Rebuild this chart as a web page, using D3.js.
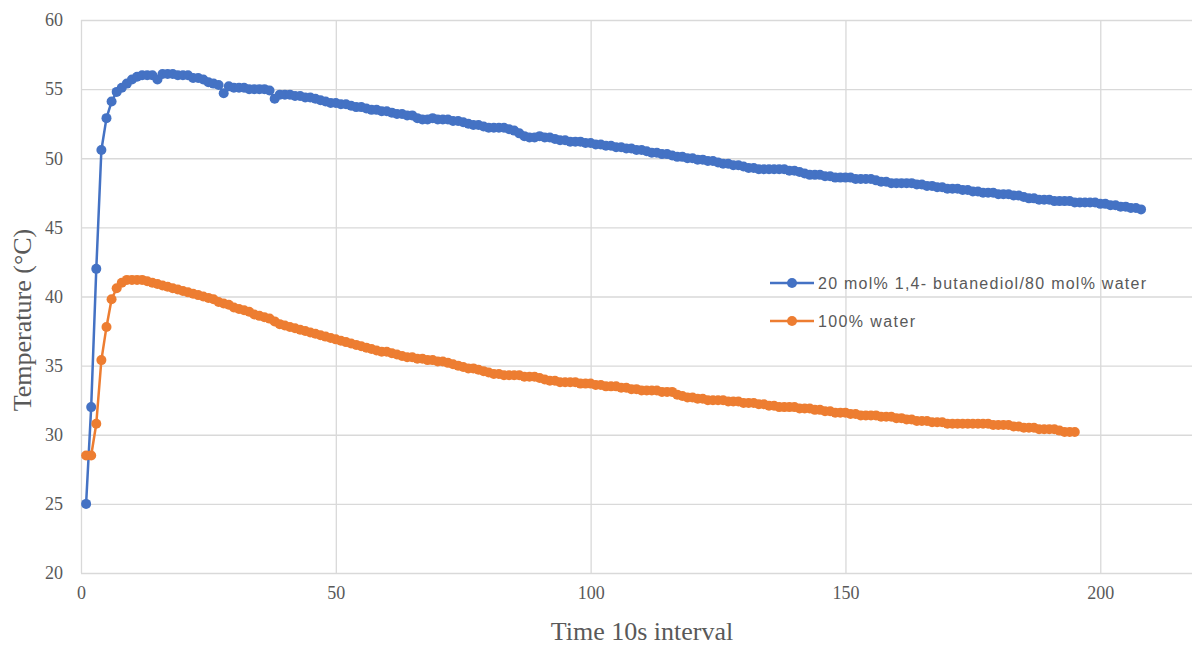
<!DOCTYPE html>
<html>
<head>
<meta charset="utf-8">
<script src="https://cdn.jsdelivr.net/npm/d3@7"></script>
<style>
  html, body { margin: 0; padding: 0; background: #ffffff; }
  svg { display: block; }
</style>
</head>
<body>
<svg id="chart" width="1196" height="648"></svg>
<script>
// Temperature readings, one per 10 s interval (interval index starts at 1)
const seriesNames = ["20 mol% 1,4- butanediol/80 mol% water", "100% water"];
const seriesColors = ["#4472C4", "#ED7D31"];

const butanediolTemps = [
  25.0, 32.0, 42.0, 50.6, 52.9, 54.1, 54.8, 55.1, 55.4, 55.7,
  55.9, 56.0, 56.0, 56.0, 55.7, 56.1, 56.1, 56.1, 56.0, 56.0,
  56.0, 55.8, 55.8, 55.7, 55.5, 55.4, 55.3, 54.7, 55.2, 55.1,
  55.1, 55.1, 55.0, 55.0, 55.0, 55.0, 54.9, 54.3, 54.6, 54.6,
  54.6, 54.5, 54.5, 54.4, 54.4, 54.3, 54.2, 54.1, 54.0, 54.0,
  53.9, 53.9, 53.8, 53.7, 53.7, 53.6, 53.5, 53.5, 53.4, 53.4,
  53.3, 53.2, 53.2, 53.1, 53.1, 52.9, 52.8, 52.8, 52.9, 52.8,
  52.8, 52.8, 52.7, 52.7, 52.6, 52.5, 52.4, 52.4, 52.3, 52.2,
  52.2, 52.2, 52.2, 52.1, 52.0, 51.8, 51.6, 51.5, 51.5, 51.6,
  51.5, 51.5, 51.4, 51.3, 51.3, 51.2, 51.2, 51.2, 51.1, 51.1,
  51.0, 51.0, 50.9, 50.9, 50.8, 50.8, 50.7, 50.7, 50.6, 50.6,
  50.5, 50.4, 50.4, 50.3, 50.3, 50.2, 50.1, 50.1, 50.0, 50.0,
  49.9, 49.9, 49.8, 49.8, 49.7, 49.6, 49.6, 49.5, 49.5, 49.4,
  49.3, 49.3, 49.2, 49.2, 49.2, 49.2, 49.2, 49.2, 49.1, 49.1,
  49.0, 48.9, 48.8, 48.8, 48.8, 48.7, 48.7, 48.6, 48.6, 48.6,
  48.6, 48.5, 48.5, 48.5, 48.5, 48.4, 48.3, 48.3, 48.2, 48.2,
  48.2, 48.2, 48.2, 48.1, 48.1, 48.0, 48.0, 47.9, 47.9, 47.8,
  47.8, 47.8, 47.7, 47.7, 47.6, 47.6, 47.5, 47.5, 47.5, 47.4,
  47.4, 47.4, 47.3, 47.3, 47.2, 47.1, 47.1, 47.0, 47.0, 47.0,
  46.9, 46.9, 46.9, 46.9, 46.8, 46.8, 46.8, 46.8, 46.8, 46.7,
  46.7, 46.6, 46.6, 46.5, 46.5, 46.4, 46.4, 46.3
];

const waterTemps = [
  28.5, 28.5, 30.8, 35.4, 37.8, 39.8, 40.6, 41.0, 41.2, 41.2,
  41.2, 41.2, 41.1, 41.0, 40.9, 40.8, 40.7, 40.6, 40.5, 40.4,
  40.3, 40.2, 40.1, 40.0, 39.9, 39.8, 39.6, 39.5, 39.4, 39.2,
  39.1, 39.0, 38.9, 38.7, 38.6, 38.5, 38.4, 38.2, 38.0, 37.9,
  37.8, 37.7, 37.6, 37.5, 37.4, 37.3, 37.2, 37.1, 37.0, 36.9,
  36.8, 36.7, 36.6, 36.5, 36.4, 36.3, 36.2, 36.1, 36.0, 36.0,
  35.9, 35.8, 35.7, 35.6, 35.6, 35.5, 35.5, 35.4, 35.4, 35.3,
  35.3, 35.2, 35.1, 35.0, 34.9, 34.8, 34.8, 34.7, 34.6, 34.5,
  34.4, 34.4, 34.3, 34.3, 34.3, 34.3, 34.2, 34.2, 34.2, 34.1,
  34.0, 33.9, 33.9, 33.8, 33.8, 33.8, 33.8, 33.7, 33.7, 33.7,
  33.6, 33.6, 33.5, 33.5, 33.5, 33.4, 33.4, 33.3, 33.3, 33.2,
  33.2, 33.2, 33.2, 33.1, 33.1, 33.1, 32.9, 32.8, 32.7, 32.7,
  32.6, 32.6, 32.5, 32.5, 32.5, 32.5, 32.4, 32.4, 32.4, 32.3,
  32.3, 32.3, 32.2, 32.2, 32.1, 32.1, 32.0, 32.0, 32.0, 32.0,
  31.9, 31.9, 31.9, 31.8, 31.8, 31.7, 31.7, 31.6, 31.6, 31.6,
  31.5, 31.5, 31.4, 31.4, 31.4, 31.4, 31.3, 31.3, 31.3, 31.2,
  31.2, 31.1, 31.1, 31.0, 31.0, 31.0, 30.9, 30.9, 30.9, 30.8,
  30.8, 30.8, 30.8, 30.8, 30.8, 30.8, 30.8, 30.8, 30.7, 30.7,
  30.7, 30.7, 30.6, 30.6, 30.5, 30.5, 30.5, 30.4, 30.4, 30.4,
  30.4, 30.3, 30.2, 30.2, 30.2
];

const xTicks = [0, 50, 100, 150, 200];
const yTicks = [20, 25, 30, 35, 40, 45, 50, 55, 60];
const xTitle = "Time 10s interval";
const yTitle = "Temperature (°C)";

const svg = d3.select("#chart");
const plot = { left: 81, right: 1192, top: 20, bottom: 573 };

const x = d3.scaleLinear().domain([0, 218]).range([plot.left, plot.right]);
const y = d3.scaleLinear().domain([20, 60]).range([plot.bottom, plot.top]);

const gridColor = "#d9d9d9";
const textColor = "#595959";
const serif = "'Liberation Serif', 'Times New Roman', serif";
const sans = "'Liberation Sans', Arial, sans-serif";

// horizontal gridlines + y tick labels
const yAxis = d3.axisLeft(y).tickValues(yTicks).tickSize(-(plot.right - plot.left)).tickPadding(18).tickFormat(d3.format("d"));
const gy = svg.append("g").attr("transform", `translate(${plot.left},0)`).call(yAxis);
gy.select(".domain").remove();
gy.selectAll(".tick line").attr("stroke", gridColor).attr("stroke-width", 1.3);
gy.selectAll(".tick text").attr("fill", textColor).style("font-family", serif).style("font-size", "18px");

// vertical gridlines + x tick labels
const xAxis = d3.axisBottom(x).tickValues(xTicks).tickSize(-(plot.bottom - plot.top)).tickPadding(13).tickFormat(d3.format("d"));
const gx = svg.append("g").attr("transform", `translate(0,${plot.bottom})`).call(xAxis);
gx.select(".domain").remove();
gx.selectAll(".tick line").attr("stroke", gridColor).attr("stroke-width", 1.3);
gx.selectAll(".tick text").attr("fill", textColor).style("font-family", serif).style("font-size", "18px");

// axis titles
svg.append("text")
  .attr("x", 642).attr("y", 640)
  .attr("text-anchor", "middle").attr("fill", textColor)
  .style("font-family", serif).style("font-size", "26px")
  .text(xTitle);

svg.append("text")
  .attr("transform", "translate(31,320) rotate(-90)")
  .attr("text-anchor", "middle").attr("fill", textColor)
  .style("font-family", serif).style("font-size", "26px")
  .text(yTitle);

// series
const allSeries = [butanediolTemps, waterTemps];
const line = d3.line().x((d, i) => x(i + 1)).y(d => y(d));

allSeries.forEach((vals, k) => {
  const g = svg.append("g");
  g.append("path")
    .attr("d", line(vals))
    .attr("fill", "none")
    .attr("stroke", seriesColors[k])
    .attr("stroke-width", 2.5)
    .attr("stroke-linejoin", "round");
  g.selectAll("circle").data(vals).join("circle")
    .attr("cx", (d, i) => x(i + 1))
    .attr("cy", d => y(d))
    .attr("r", 5)
    .attr("fill", seriesColors[k]);
});

// legend (labels spaced out to the width of the legend block)
const legendRows = [283, 321];
const legendWidths = [328, 97];
seriesNames.forEach((name, k) => {
  const g = svg.append("g").attr("transform", `translate(770,${legendRows[k]})`);
  g.append("line").attr("x1", 0).attr("x2", 44).attr("y1", 0).attr("y2", 0)
    .attr("stroke", seriesColors[k]).attr("stroke-width", 2.5);
  g.append("circle").attr("cx", 22).attr("cy", 0).attr("r", 5).attr("fill", seriesColors[k]);
  g.append("text").attr("x", 48).attr("y", 0).attr("dy", "0.36em")
    .attr("fill", textColor)
    .attr("textLength", legendWidths[k])
    .attr("lengthAdjust", "spacing")
    .style("font-family", sans)
    .style("font-size", "16px")
    .text(name);
});
</script>
</body>
</html>
